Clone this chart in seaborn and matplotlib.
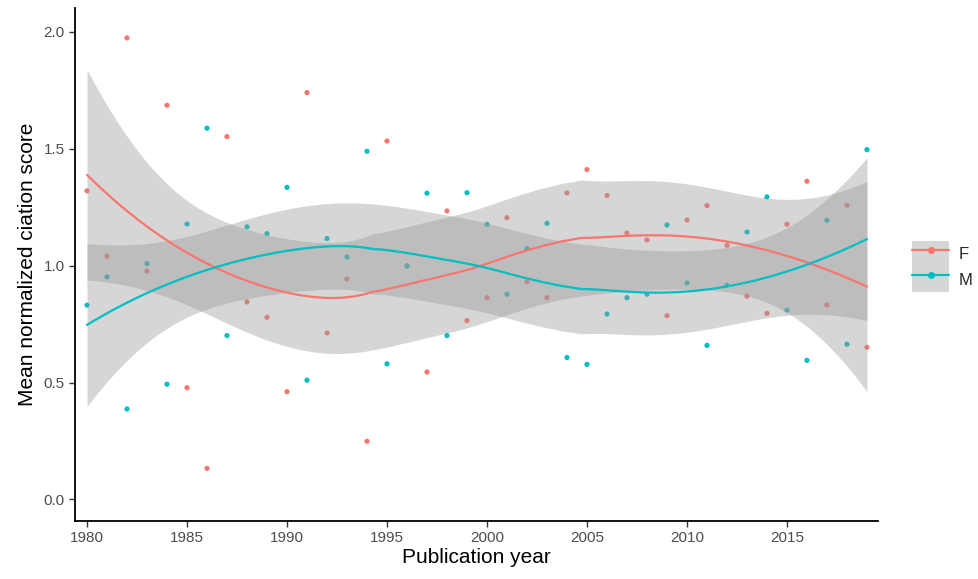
import numpy as np
import pandas as pd
import matplotlib
matplotlib.use("Agg")
import matplotlib.pyplot as plt
import seaborn as sns
from matplotlib.lines import Line2D
from matplotlib.patches import Patch

years = list(range(1980, 2020))
f_scores = [1.32, 1.04, 1.974, 0.977, 1.686, 0.478, 0.133, 1.552, 0.845, 0.779,
            0.461, 1.740, 0.712, 0.943, 0.249, 1.533, 1.0, 0.545, 1.234, 0.765,
            0.863, 1.205, 0.932, 0.863, 1.311, 1.411, 1.300, 1.139, 1.110, 0.786,
            1.195, 1.257, 1.087, 0.869, 0.796, 1.177, 1.361, 0.832, 1.258, 0.651]
m_scores = [0.831, 0.952, 0.387, 1.009, 0.493, 1.178, 1.588, 0.701, 1.166, 1.137,
            1.335, 0.510, 1.116, 1.037, 1.489, 0.580, 0.997, 1.310, 0.701, 1.312,
            1.177, 0.878, 1.073, 1.181, 0.607, 0.578, 0.793, 0.863, 0.878, 1.174,
            0.926, 0.659, 0.916, 1.144, 1.294, 0.810, 0.595, 1.194, 0.664, 1.496]
groups = ["F", "M"]
colors = {"F": "#F8766D", "M": "#00BFC4"}

df = pd.DataFrame({
    "year": years * 2,
    "score": f_scores + m_scores,
    "gender": ["F"] * len(years) + ["M"] * len(years),
})


# loess smoother like ggplot's geom_smooth (span 0.75, degree 2, 95% CI)
def loess(x, y, grid, span=0.75):
    n = len(x)
    q = int(np.floor(n * span))

    def op_row(x0):
        d = np.abs(x - x0)
        h = np.sort(d)[q - 1]
        w = (1 - np.clip(d / h, 0, 1) ** 3) ** 3
        X = np.column_stack([np.ones(n), x - x0, (x - x0) ** 2])
        W = X.T * w
        return np.linalg.solve(W @ X, W)[0]

    L = np.array([op_row(v) for v in x])
    res = y - L @ y
    IL = np.eye(n) - L
    M = IL.T @ IL
    d1, d2 = np.trace(M), np.trace(M @ M)
    sigma = np.sqrt(res @ res / d1)
    dof = d1 ** 2 / d2
    z = 1.959964
    t = z + (z ** 3 + z) / (4 * dof) + (5 * z ** 5 + 16 * z ** 3 + 3 * z) / (96 * dof ** 2)
    Lg = np.array([op_row(v) for v in grid])
    fit = Lg @ y
    se = sigma * np.sqrt((Lg ** 2).sum(axis=1))
    return fit, fit - t * se, fit + t * se


grid = np.linspace(1980, 2019, 80)
smooth = []
for g in groups:
    sub = df[df["gender"] == g]
    fit, lo, hi = loess(sub["year"].to_numpy(float), sub["score"].to_numpy(float), grid)
    smooth.append(pd.DataFrame({"year": grid, "fit": fit, "lo": lo, "hi": hi, "gender": g}))
smooth = pd.concat(smooth, ignore_index=True)

sns.set_style("ticks")
plt.rcParams["font.family"] = ["Liberation Sans", "DejaVu Sans"]

fig = plt.figure(figsize=(9.79, 5.79), dpi=100)
ax = fig.add_axes([0.0766, 0.1002, 0.8202, 0.886])

sns.scatterplot(data=df, x="year", y="score", hue="gender", palette=colors,
                s=14, linewidth=0, legend=False, ax=ax, zorder=1)
for g in groups:
    s = smooth[smooth["gender"] == g]
    ax.fill_between(s["year"], s["lo"], s["hi"], color="#999999", alpha=0.4,
                    linewidth=0, zorder=2)
sns.lineplot(data=smooth, x="year", y="fit", hue="gender", palette=colors,
             linewidth=1.6, legend=False, ax=ax, zorder=3)

ax.set_xlim(1979.4, 2019.55)
ax.set_ylim(-0.092, 2.102)
ax.set_xticks(range(1980, 2016, 5))
ax.set_yticks([0, 0.5, 1.0, 1.5, 2.0])
ax.set_yticklabels(["0.0", "0.5", "1.0", "1.5", "2.0"])
ax.tick_params(colors="#333333", labelcolor="#4D4D4D", labelsize=11, length=4, width=1)
ax.set_xlabel("Publication year", fontsize=15, color="black", labelpad=2)
ax.set_ylabel("Mean normalized ciation score", fontsize=15, color="black", labelpad=5)
for side in ["left", "bottom"]:
    ax.spines[side].set_linewidth(1.3)
    ax.spines[side].set_color("black")
sns.despine(ax=ax)

handles = [(Patch(facecolor="#D6D6D6", edgecolor="none"),
            Line2D([], [], color=colors[g], marker="o", markersize=4, linewidth=1.6))
           for g in groups]
fig.legend(handles, groups, loc="center left", bbox_to_anchor=(0.932, 0.54),
           frameon=False, fontsize=12, handlelength=2.2, handleheight=2.0,
           labelspacing=0.0, handletextpad=0.6, borderpad=0, borderaxespad=0)

fig.savefig("out.png", dpi=100)
